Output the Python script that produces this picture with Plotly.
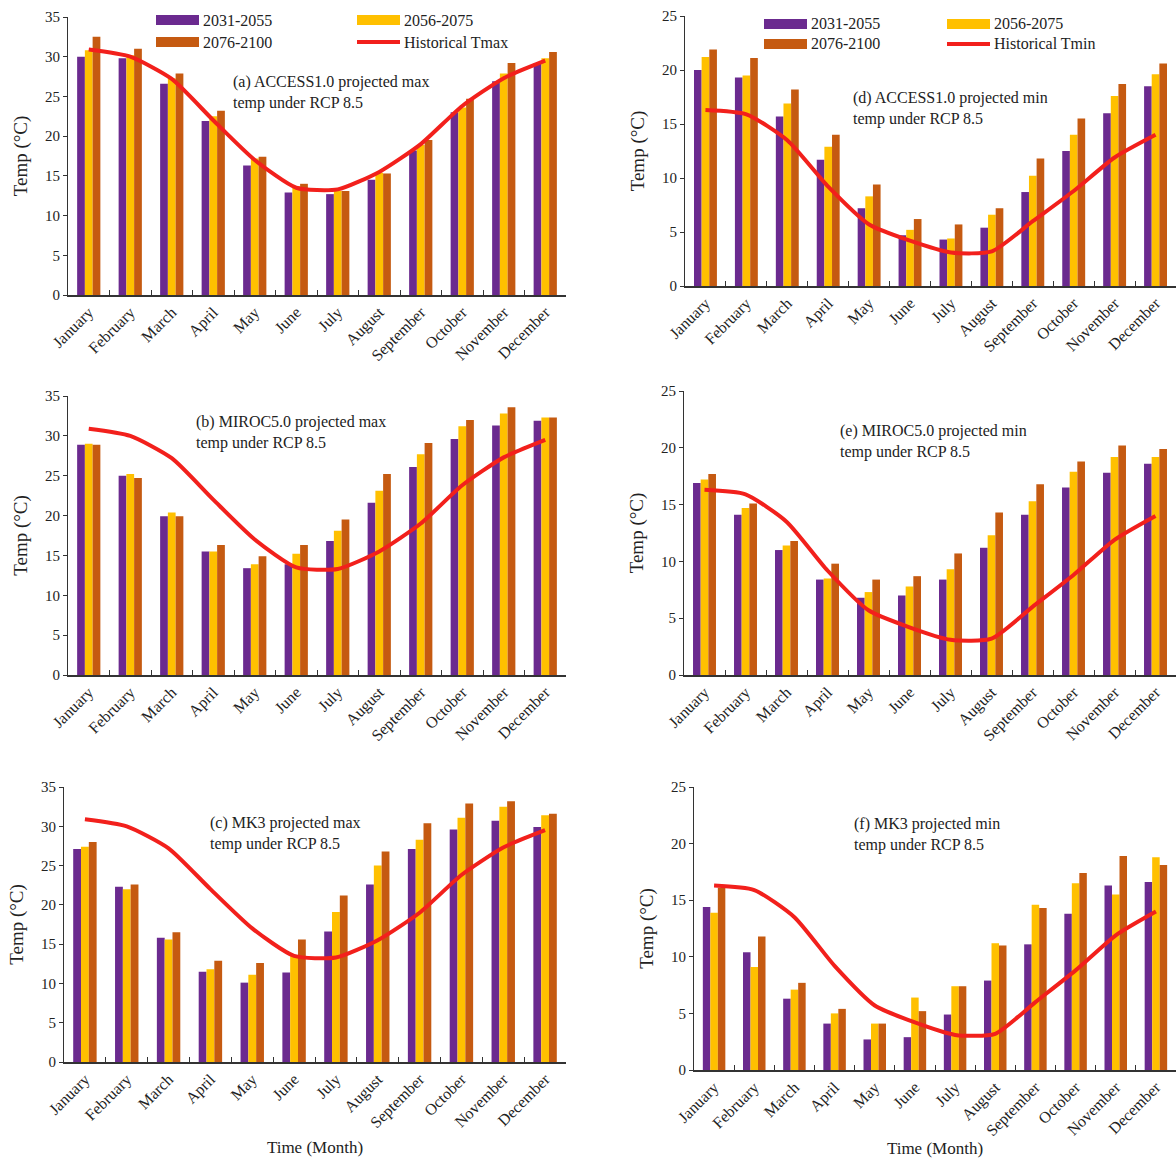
import plotly.graph_objects as go

months = ["January", "February", "March", "April", "May", "June", "July",
          "August", "September", "October", "November", "December"]
series_names = ["2031-2055", "2056-2075", "2076-2100"]

hist_tmax = [30.9, 30.0, 27.2, 22.0, 17.0, 13.5, 13.3, 15.5, 19.0, 23.8, 27.3, 29.5]
hist_tmin = [16.3, 15.9, 13.5, 9.2, 5.7, 4.2, 3.1, 3.2, 6.0, 8.8, 11.9, 14.0]

# (a) ACCESS1.0 max
a_2031 = [30.0, 29.8, 26.6, 21.9, 16.3, 12.9, 12.7, 14.5, 18.2, 23.0, 26.9, 29.2]
a_2056 = [30.8, 30.2, 27.3, 22.5, 17.2, 13.7, 13.1, 15.4, 18.9, 23.6, 27.9, 29.8]
a_2076 = [32.5, 31.0, 27.9, 23.2, 17.4, 14.0, 13.1, 15.3, 19.5, 24.7, 29.2, 30.6]
# (b) MIROC5.0 max
b_2031 = [28.9, 25.0, 19.9, 15.5, 13.4, 13.9, 16.8, 21.6, 26.1, 29.6, 31.3, 31.9]
b_2056 = [29.0, 25.2, 20.4, 15.5, 13.9, 15.2, 18.1, 23.1, 27.7, 31.2, 32.8, 32.3]
b_2076 = [28.9, 24.7, 19.9, 16.3, 14.9, 16.3, 19.5, 25.2, 29.1, 32.0, 33.6, 32.3]
# (c) MK3 max
c_2031 = [27.1, 22.3, 15.8, 11.5, 10.1, 11.4, 16.6, 22.6, 27.1, 29.6, 30.7, 29.9]
c_2056 = [27.4, 22.0, 15.6, 11.8, 11.1, 13.6, 19.1, 25.0, 28.3, 31.1, 32.5, 31.4]
c_2076 = [28.0, 22.6, 16.5, 12.9, 12.6, 15.6, 21.2, 26.8, 30.4, 32.9, 33.2, 31.6]
# (d) ACCESS1.0 min
d_2031 = [20.0, 19.3, 15.7, 11.7, 7.2, 4.7, 4.3, 5.4, 8.7, 12.5, 16.0, 18.5]
d_2056 = [21.2, 19.5, 16.9, 12.9, 8.3, 5.2, 4.4, 6.6, 10.2, 14.0, 17.6, 19.6]
d_2076 = [21.9, 21.1, 18.2, 14.0, 9.4, 6.2, 5.7, 7.2, 11.8, 15.5, 18.7, 20.6]
# (e) MIROC5.0 min
e_2031 = [16.9, 14.1, 11.0, 8.4, 6.8, 7.0, 8.4, 11.2, 14.1, 16.5, 17.8, 18.6]
e_2056 = [17.2, 14.7, 11.4, 8.5, 7.3, 7.8, 9.3, 12.3, 15.3, 17.9, 19.2, 19.2]
e_2076 = [17.7, 15.1, 11.8, 9.8, 8.4, 8.7, 10.7, 14.3, 16.8, 18.8, 20.2, 19.9]
# (f) MK3 min
f_2031 = [14.4, 10.4, 6.3, 4.1, 2.7, 2.9, 4.9, 7.9, 11.1, 13.8, 16.3, 16.6]
f_2056 = [13.9, 9.1, 7.1, 5.0, 4.1, 6.4, 7.4, 11.2, 14.6, 16.5, 15.5, 18.8]
f_2076 = [16.1, 11.8, 7.7, 5.4, 4.1, 5.2, 7.4, 11.0, 14.3, 17.4, 18.9, 18.1]

y_ticks_max = [0, 5, 10, 15, 20, 25, 30, 35]
y_ticks_min = [0, 5, 10, 15, 20, 25]

colors = ["#6B2A8F", "#FFC000", "#C55A11"]
RED = "#F2201C"
FONT = "Liberation Serif"
W, H = 1176, 1158

panels = [
    # key, bars, hist, ymax, ticks, x0,x1,ytop,ybot, label, lx, ly, xtitle standoff
    ("a", [a_2031, a_2056, a_2076], hist_tmax, 35, y_ticks_max, 68, 566, 17, 295,
     "(a) ACCESS1.0 projected max<br>temp under RCP 8.5", 231, 92, None),
    ("b", [b_2031, b_2056, b_2076], hist_tmax, 35, y_ticks_max, 68, 566, 396, 675,
     "(b) MIROC5.0 projected max<br>temp under RCP 8.5", 194, 432, None),
    ("c", [c_2031, c_2056, c_2076], hist_tmax, 35, y_ticks_max, 64, 566, 787, 1062,
     "(c) MK3 projected max<br>temp under RCP 8.5", 208, 833, 10),
    ("d", [d_2031, d_2056, d_2076], hist_tmin, 25, y_ticks_min, 685, 1176, 16, 286,
     "(d) ACCESS1.0 projected min<br>temp under RCP 8.5", 851, 108, None),
    ("e", [e_2031, e_2056, e_2076], hist_tmin, 25, y_ticks_min, 684, 1176, 391, 675,
     "(e) MIROC5.0 projected min<br>temp under RCP 8.5", 838, 442, None),
    ("f", [f_2031, f_2056, f_2076], hist_tmin, 25, y_ticks_min, 694, 1176, 787, 1070,
     "(f) MK3 projected min<br>temp under RCP 8.5", 852, 834, 2),
]

fig = go.Figure()
annotations = []
shapes = []
layout = {}

for i, (key, bars, hist, ymax, ticks, x0, x1, yt, yb, label, lx, ly, xst) in enumerate(panels):
    n = i + 1
    xa = "x" if n == 1 else f"x{n}"
    ya = "y" if n == 1 else f"y{n}"
    for s, vals in enumerate(bars):
        fig.add_trace(go.Bar(x=months, y=vals, name=series_names[s],
                             marker=dict(color=colors[s], line=dict(width=0)),
                             xaxis=xa, yaxis=ya, showlegend=False))
    fig.add_trace(go.Scatter(x=months, y=hist, mode="lines",
                             line=dict(color=RED, width=4, shape="spline", smoothing=0.6),
                             xaxis=xa, yaxis=ya, showlegend=False))
    xkey = "xaxis" if n == 1 else f"xaxis{n}"
    ykey = "yaxis" if n == 1 else f"yaxis{n}"
    xtitle = dict(text="")
    if xst is not None:
        xtitle = dict(text="Time (Month)", font=dict(family=FONT, size=17, color="#222"),
                      standoff=xst)
    layout[xkey] = dict(
        domain=[x0 / W, x1 / W], anchor=ya, type="category",
        showline=True, linecolor="#333", linewidth=1.5,
        ticks="inside", ticklen=5, tickcolor="#333", tickson="boundaries",
        tickangle=-45, tickfont=dict(family=FONT, size=16, color="#222"),
        showgrid=False, zeroline=False, automargin=False,
        title=xtitle,
    )
    layout[ykey] = dict(
        domain=[1 - yb / H, 1 - yt / H], anchor=xa, range=[0, ymax],
        tickvals=ticks, showline=True, linecolor="#333", linewidth=1.2,
        ticks="outside", ticklen=4, tickcolor="#333",
        tickfont=dict(family=FONT, size=15, color="#222"),
        showgrid=False, zeroline=False, automargin=False,
        title=dict(text="Temp (°C)", font=dict(family=FONT, size=19, color="#222"),
                   standoff=12),
    )
    annotations.append(dict(text=label, x=lx / W, y=1 - ly / H, xref="paper", yref="paper",
                            xanchor="left", yanchor="middle", align="left", showarrow=False,
                            font=dict(family=FONT, size=16, color="#222")))

# manual legends (top two panels)
def add_legend(xs, ys, hist_label):
    (c1x, c2x), (r1y, r2y) = xs, ys
    items = [
        (c1x, r1y, "bar", colors[0], series_names[0]),
        (c2x, r1y, "bar", colors[1], series_names[1]),
        (c1x, r2y, "bar", colors[2], series_names[2]),
        (c2x, r2y, "line", RED, hist_label),
    ]
    for (x, y, kind, col, txt) in items:
        if kind == "bar":
            shapes.append(dict(type="rect", xref="paper", yref="paper",
                               x0=x / W, x1=(x + 43) / W,
                               y0=1 - (y + 5) / H, y1=1 - (y - 5) / H,
                               fillcolor=col, line=dict(width=0)))
        else:
            shapes.append(dict(type="line", xref="paper", yref="paper",
                               x0=x / W, x1=(x + 43) / W, y0=1 - y / H, y1=1 - y / H,
                               line=dict(color=col, width=4)))
        annotations.append(dict(text=txt, x=(x + 45) / W, y=1 - y / H,
                                xref="paper", yref="paper", xanchor="left",
                                yanchor="middle", showarrow=False,
                                font=dict(family=FONT, size=16, color="#222")))

add_legend((156, 357), (20, 42), "Historical Tmax")
add_legend((764, 947), (24, 44), "Historical Tmin")

fig.update_layout(
    width=W, height=H, margin=dict(l=0, r=0, t=0, b=0),
    paper_bgcolor="white", plot_bgcolor="white",
    barmode="group", bargap=0.44, bargroupgap=0.0,
    annotations=annotations, shapes=shapes,
    font=dict(family=FONT, color="#222"),
    **layout,
)

fig.write_html("out.html")
